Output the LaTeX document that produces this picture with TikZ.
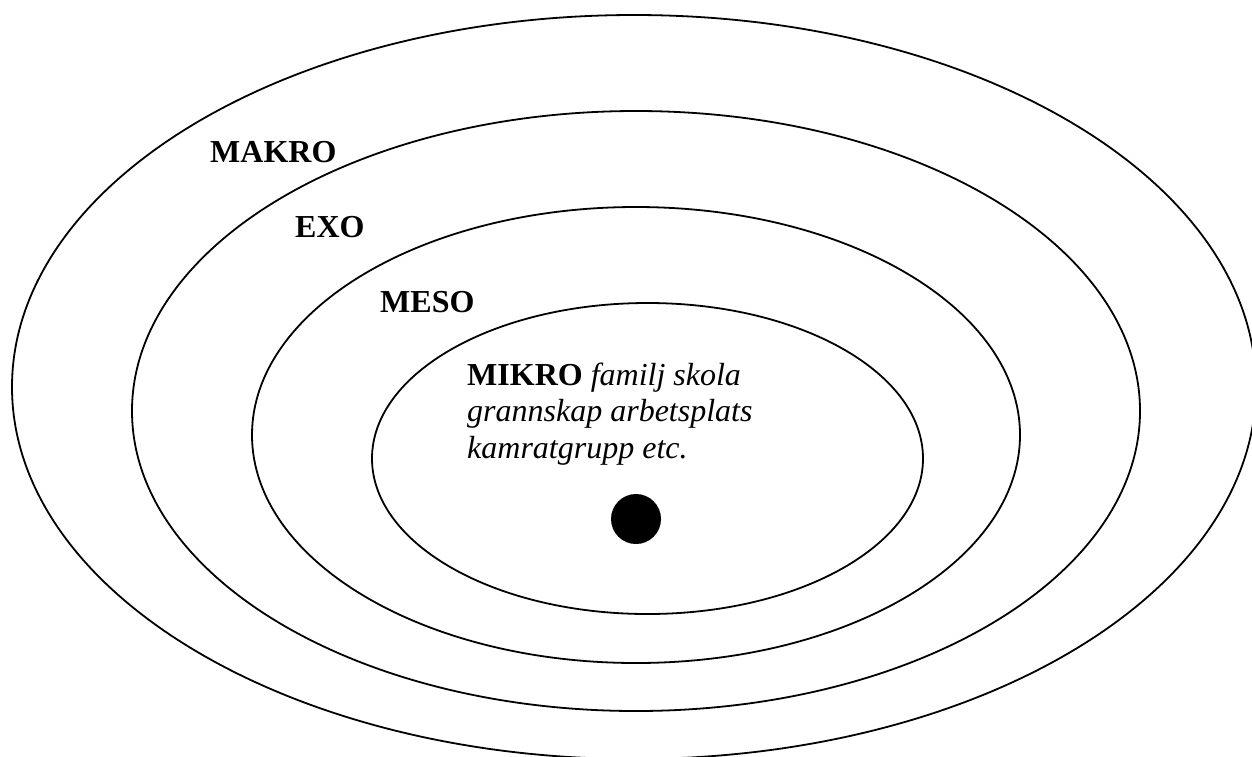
\documentclass[tikz,border=0pt]{standalone}
\usepackage{fontspec}
\setmainfont{Liberation Serif}
\tikzset{
  ring/.style={draw=black, line width=1.8pt},
  lvl/.style={font=\fontsize{32}{36.5}\selectfont\bfseries, anchor=base west, inner sep=0pt},
  desc/.style={font=\fontsize{32}{36.5}\selectfont, anchor=base west, inner sep=0pt, align=left}
}
\begin{document}
\begin{tikzpicture}[x=1pt,y=-1pt]
\useasboundingbox (0,0) rectangle (1252,756);
\draw[ring] (634,387) ellipse [x radius=622, y radius=372];
\draw[ring] (636,411) ellipse [x radius=504, y radius=300];
\draw[ring] (636,435) ellipse [x radius=384, y radius=228];
\draw[ring] (647.5,458.5) ellipse [x radius=275.5, y radius=155.5];
\fill[black] (636,519) circle [radius=25];
\node[lvl] (makro) at (210,162) {MAKRO};
\node[lvl] (exo) at (295,237) {EXO};
\node[lvl] (meso) at (380,312) {MESO};
\node[desc] (mikro) at (467,458) {\textbf{MIKRO} \textit{familj skola}\\\textit{grannskap arbetsplats}\\\textit{kamratgrupp etc.}};
\end{tikzpicture}
\end{document}
